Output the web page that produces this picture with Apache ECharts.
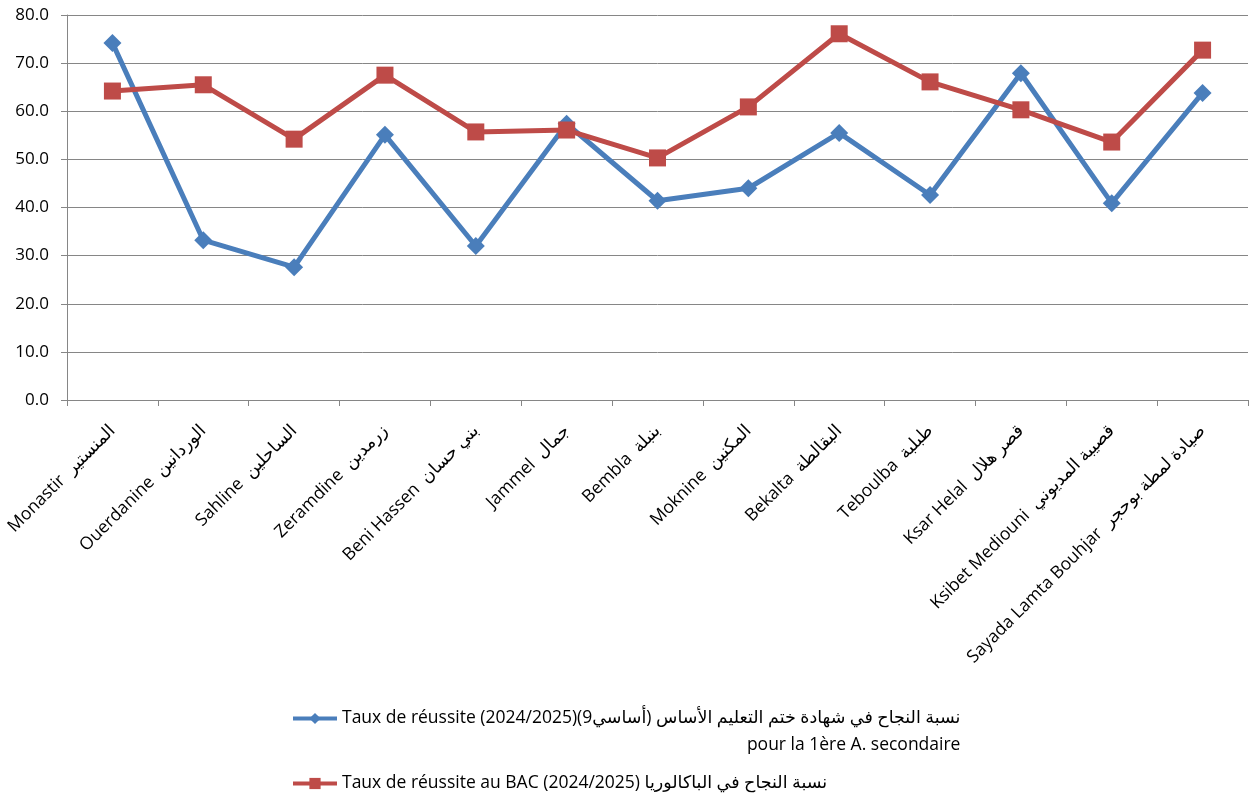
<!DOCTYPE html>
<html>
<head>
<meta charset="utf-8">
<script src="https://cdn.jsdelivr.net/npm/echarts@6/dist/echarts.min.js"></script>
<style>
  html, body { margin: 0; padding: 0; background: #fff; }
  #chart { width: 1253px; height: 800px; }
</style>
</head>
<body>
<div id="chart"></div>
<script>
// 13 délégations (Monastir)
const categories = [
  'Monastir  المنستير',
  'Ouerdanine  الوردانين',
  'Sahline  الساحلين',
  'Zeramdine  زرمدين',
  'Beni Hassen  بني حسان',
  'Jammel  جمال',
  'Bembla  بنبلة',
  'Moknine  المكنين',
  'Bekalta  البقالطة',
  'Teboulba  طبلبة',
  'Ksar Helal  قصر هلال',
  'Ksibet Mediouni  قصيبة المديوني',
  'Sayada Lamta Bouhjar  صيادة لمطة بوحجر'
]

// taux de réussite 9ème -> 1ère A. secondaire
const neuviemeValues = [74.2, 33.2, 27.6, 55.1, 32.0, 57.4, 41.4, 44.0, 55.5, 42.6, 67.9, 40.9, 63.8]
// taux de réussite au BAC
const bacValues = [64.2, 65.5, 54.2, 67.5, 55.7, 56.1, 50.3, 60.9, 76.1, 66.1, 60.3, 53.6, 72.7]

const yTicks = { min: 0, max: 80, interval: 10 }

const seriesNames = [
  'Taux de réussite (2024/2025)(9أساسي) نسبة النجاح في شهادة ختم التعليم الأساس',
  'Taux de réussite au BAC (2024/2025) نسبة النجاح في الباكالوريا'
]
// texte de légende découpé en morceaux pour garder l'ordre visuel latin / arabe
// (ligne vide au début pour que le symbole tombe sur la 1re ligne)
const legendParts = [
  ['{sp| }\n', 'Taux de réussite (2024/2025)(9', '{ar|أساسي}', ') ', '{ar|نسبة النجاح في شهادة ختم التعليم الأساس}', '\n{b|pour la 1ère A. secondaire}'],
  ['Taux de réussite au BAC (2024/2025) ', '{ar|نسبة النجاح في الباكالوريا}']
]

const font = '"Open Sans", "DejaVu Sans", sans-serif'
const gridColor = '#868686'

const chart = echarts.init(document.getElementById('chart'))

const legendText = { fontFamily: font, fontSize: 17.5, color: '#000', lineHeight: 27 }

chart.setOption({
  animation: false,
  backgroundColor: '#fff',
  textStyle: { fontFamily: font },
  grid: { left: 67, right: 5, top: 15, bottom: 400, containLabel: false },
  legend: {
    orient: 'vertical',
    left: 291,
    top: 678,
    height: 122,
    padding: 0,
    itemWidth: 44,
    itemHeight: 14,
    itemGap: 11,
    data: seriesNames,
    lineStyle: { width: 4 },
    formatter: (name) => legendParts[seriesNames.indexOf(name)].join(''),
    textStyle: Object.assign({}, legendText, {
      rich: {
        sp: legendText,
        ar: legendText,
        b: Object.assign({}, legendText, { align: 'right' })
      }
    })
  },
  xAxis: {
    type: 'category',
    data: categories,
    boundaryGap: true,
    axisLine: { lineStyle: { color: gridColor, width: 1 } },
    axisTick: { show: true, length: 6, lineStyle: { color: gridColor } },
    axisLabel: {
      rotate: 45,
      margin: 28,
      interval: 0,
      fontFamily: font,
      fontSize: 17.5,
      color: '#000'
    }
  },
  yAxis: {
    type: 'value',
    min: yTicks.min,
    max: yTicks.max,
    interval: yTicks.interval,
    axisLine: { show: true, lineStyle: { color: gridColor } },
    axisTick: { show: true, length: 6, lineStyle: { color: gridColor } },
    splitLine: { lineStyle: { color: gridColor, width: 1 } },
    axisLabel: {
      formatter: (v) => v.toFixed(1),
      fontFamily: font,
      fontSize: 17,
      color: '#000',
      margin: 18
    }
  },
  series: [
    {
      name: seriesNames[0],
      type: 'line',
      data: neuviemeValues,
      symbol: 'diamond',
      symbolSize: 18,
      lineStyle: { color: '#4a7ebb', width: 5 },
      itemStyle: { color: '#4a7ebb' }
    },
    {
      name: seriesNames[1],
      type: 'line',
      data: bacValues,
      symbol: 'rect',
      symbolSize: 17,
      lineStyle: { color: '#be4b48', width: 5 },
      itemStyle: { color: '#be4b48' }
    }
  ]
})
</script>
</body>
</html>
